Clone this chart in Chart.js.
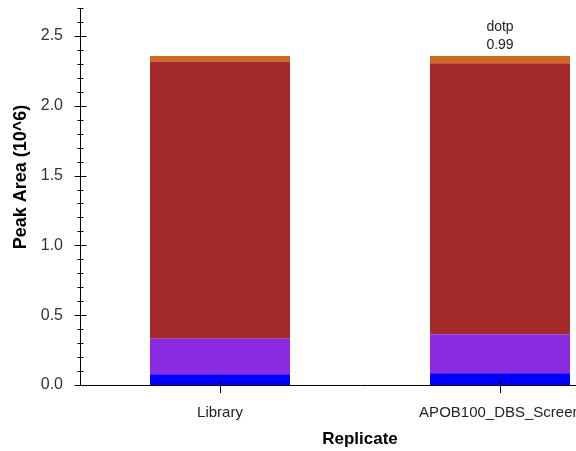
<!DOCTYPE html>
<html>
<head>
<meta charset="utf-8">
<script src="https://cdn.jsdelivr.net/npm/chart.js@4/dist/chart.umd.min.js"></script>
<style>
  html, body { margin: 0; padding: 0; background: #fff; overflow: hidden; }
  #wrap { width: 576px; height: 451px; overflow: hidden; position: relative; }
  #box { width: 660px; height: 451px; position: absolute; left: 0; top: 0; }
</style>
</head>
<body>
<div id="wrap"><div id="box"><canvas id="c"></canvas></div></div>
<script>
// Replicates on the x axis
const replicates = ['Library', 'APOB100_DBS_Screen'];

// Peak areas (10^6) per transition, stacked bottom to top
const transitionA = [0.077, 0.084];
const transitionB = [0.255, 0.279];
const transitionC = [1.984, 1.941];
const transitionD = [0.041, 0.053];

// Dot-product annotation per replicate (null = none)
const dotp = [null, '0.99'];

const colors = ['#0000FF', '#8A2BE2', '#A52A2A', '#D2691E'];
const series = [transitionA, transitionB, transitionC, transitionD];

const FONT = '"Liberation Sans", Arial, sans-serif';

// Axis tick marks: majors cross the axis, minors are shorter
const tickMarks = {
  id: 'tickMarks',
  afterDatasetsDraw(chart) {
    const ctx = chart.ctx;
    const y = chart.scales.y, x = chart.scales.x;
    ctx.save();
    ctx.strokeStyle = '#000';
    ctx.lineWidth = 1;
    const ax = Math.round(y.right) + 0.5;
    y.ticks.forEach(t => {
      const py = Math.round(y.getPixelForValue(t.value)) + 0.5;
      const major = Math.abs(t.value / 0.5 - Math.round(t.value / 0.5)) < 1e-6;
      const h = major ? 6 : 3;
      ctx.beginPath();
      ctx.moveTo(ax - h, py);
      ctx.lineTo(ax + h, py);
      ctx.stroke();
    });
    const by = Math.round(x.top);
    replicates.forEach((r, i) => {
      const px = Math.round(x.getPixelForValue(i)) + 0.5;
      ctx.beginPath();
      ctx.moveTo(px, by - 7);
      ctx.lineTo(px, by + 8);
      ctx.stroke();
    });
    ctx.restore();
  }
};

// dotp labels above stacks and the axis titles
const annotations = {
  id: 'annotations',
  afterDraw(chart) {
    const ctx = chart.ctx;
    const x = chart.scales.x, y = chart.scales.y;
    ctx.save();
    ctx.fillStyle = '#222';
    ctx.font = '14px ' + FONT;
    ctx.textAlign = 'center';
    ctx.textBaseline = 'middle';
    dotp.forEach((d, i) => {
      if (d === null) return;
      const total = series.reduce((s, arr) => s + arr[i], 0);
      const px = x.getPixelForValue(i);
      const py = y.getPixelForValue(total);
      ctx.fillText('dotp', px, py - 29);
      ctx.fillText(d, px, py - 11);
    });
    ctx.fillStyle = '#000';
    ctx.font = 'bold 17px ' + FONT;
    ctx.fillText('Replicate', (x.left + x.right) / 2, 439);
    ctx.font = 'bold 18px ' + FONT;
    ctx.translate(21, 177);
    ctx.rotate(-Math.PI / 2);
    ctx.fillText('Peak Area (10^6)', 0, 0);
    ctx.restore();
  }
};

function noScalePadding(s) {
  s.paddingTop = 0; s.paddingBottom = 0; s.paddingLeft = 0; s.paddingRight = 0;
}

new Chart(document.getElementById('c'), {
  type: 'bar',
  data: {
    labels: replicates,
    datasets: series.map((d, i) => ({
      data: d,
      backgroundColor: colors[i],
      borderWidth: 0,
      barPercentage: 0.5,
      categoryPercentage: 1.0
    }))
  },
  options: {
    responsive: true,
    maintainAspectRatio: false,
    animation: false,
    layout: { padding: { left: 0, right: 20, top: 8, bottom: 0 } },
    plugins: { legend: { display: false }, tooltip: { enabled: false } },
    scales: {
      x: {
        stacked: true,
        grid: { display: false, drawTicks: false },
        border: { display: true, color: '#000', width: 1 },
        ticks: { color: '#222', font: { family: FONT, size: 15 }, padding: 19, maxRotation: 0, autoSkip: false },
        afterFit(s) { s.height = 66; noScalePadding(s); }
      },
      y: {
        stacked: true,
        min: 0,
        max: 2.7,
        grid: { display: false, drawTicks: false },
        border: { display: true, color: '#000', width: 1 },
        ticks: {
          stepSize: 0.1,
          color: '#333',
          font: { family: FONT, size: 16 },
          padding: 17,
          autoSkip: false,
          callback(v) {
            const r = Math.round(v * 10) / 10;
            return Math.abs(r / 0.5 - Math.round(r / 0.5)) < 1e-6 && r < 2.65 ? r.toFixed(1) : '';
          }
        },
        afterFit(s) { s.width = 80; noScalePadding(s); }
      }
    }
  },
  plugins: [tickMarks, annotations]
});
</script>
</body>
</html>
